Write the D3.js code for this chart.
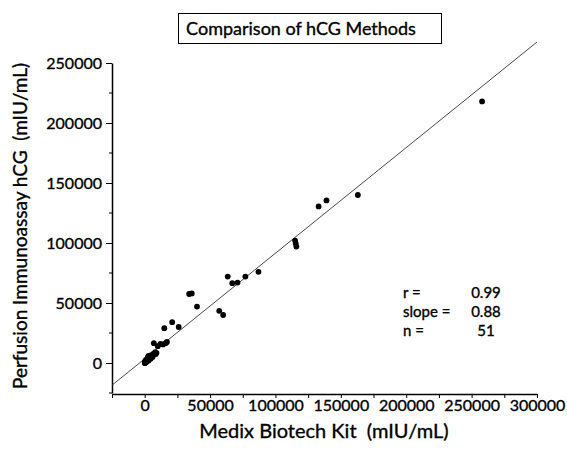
<!DOCTYPE html>
<html>
<head>
<meta charset="utf-8">
<script src="https://cdn.jsdelivr.net/npm/d3@7"></script>
<style>
  body { margin: 0; background: #fff; }
  svg { font-family: Lato, "Open Sans", sans-serif; }
  svg text { white-space: pre; stroke: #000; stroke-width: 0.35px; }
</style>
</head>
<body>
<div id="chart"></div>
<script>
// Medix Biotech Kit (x) vs Perfusion Immunoassay (y), mIU/mL
const medix = [0, 1000, 2500, 5000, 7500, 7000, 10000, 16000, 15000, 21000,
  26000, 34000, 36000, 40000, 57000, 60000, 63500, 67000, 71000, 77000,
  87000, 115000, 115500, 116000, 133000, 139000, 163000, 258000,
  200, 500, 800, 1500, 2000, 3000, 3500, 4000, 4500, 6000, 6500, 8000,
  8500, 9000, 12000, 14000, 17000, 500, 1200, 2200, 5500, 3000, 300];
const perfusion = [0, 2500, 5000, 6500, 8000, 16500, 14000, 16500, 29000, 34000,
  30000, 57500, 58000, 47000, 43500, 40000, 72000, 66500, 67000, 72000,
  76000, 102000, 99500, 97000, 130500, 135500, 140000, 218000,
  300, 1000, 600, 1500, 3500, 2000, 4000, 5500, 3500, 5000, 7500, 9000,
  7500, 8500, 16000, 15500, 17500, 200, 800, 1800, 6000, 6000, 1500];

const xTicks = [0, 50000, 100000, 150000, 200000, 250000, 300000];
const yTicks = [0, 50000, 100000, 150000, 200000, 250000];
const fit = { slope: 0.88, intercept: 3500 };
const stats = [['r =', '0.99'], ['slope =', '0.88'], ['n =', '51']];

const width = 567, height = 449;
const svg = d3.select('#chart').append('svg')
    .attr('width', width)
    .attr('height', height);

const x = d3.scaleLinear().domain([-25000, 300000]).range([112, 537]);
const y = d3.scaleLinear().domain([-25000, 250000]).range([393, 63]);

// x axis: ticks every 25000, labels on the 50000s
const xAxis = svg.append('g')
    .attr('transform', `translate(0,${y(-25000) + 1})`)
    .call(d3.axisBottom(x)
      .tickValues(d3.range(-25000, 300001, 25000))
      .tickSize(4)
      .tickSizeOuter(0)
      .tickFormat(d => xTicks.includes(d) ? d : ''));

// y axis: major ticks with labels, minor ticks between
const yAxis = svg.append('g')
    .attr('transform', `translate(${x(-25000)},0)`)
    .call(d3.axisLeft(y)
      .tickValues(yTicks)
      .tickSize(6)
      .tickSizeOuter(0)
      .tickFormat(d => d));

svg.append('g')
    .attr('transform', `translate(${x(-25000)},0)`)
    .selectAll('line')
    .data(yTicks.map(d => d - 25000))
    .join('line')
      .attr('x1', -3)
      .attr('x2', 0)
      .attr('y1', d => y(d))
      .attr('y2', d => y(d))
      .attr('stroke', '#000');

[xAxis, yAxis].forEach(g => {
  g.select('.domain').attr('stroke-width', 1.5);
  g.selectAll('text')
      .attr('font-size', '16px')
      .attr('font-family', 'Lato, sans-serif')
      .attr('fill', '#000');
});
xAxis.selectAll('text').attr('dy', '0.75em').attr('y', 5);
yAxis.selectAll('text').attr('x', -10);

// regression line
svg.append('line')
    .attr('x1', x(-25000))
    .attr('y1', y(fit.slope * -25000 + fit.intercept))
    .attr('x2', x(300000))
    .attr('y2', y(fit.slope * 300000 + fit.intercept))
    .attr('stroke', '#333')
    .attr('stroke-width', 0.9);

// points
svg.append('g')
    .selectAll('circle')
    .data(medix.map((d, i) => [d, perfusion[i]]))
    .join('circle')
      .attr('cx', d => x(d[0]))
      .attr('cy', d => y(d[1]))
      .attr('r', 2.9)
      .attr('fill', '#000');

// title box
svg.append('rect')
    .attr('x', 178.5)
    .attr('y', 13.5)
    .attr('width', 263)
    .attr('height', 30)
    .attr('fill', 'none')
    .attr('stroke', '#000');

svg.append('text')
    .attr('x', 301)
    .attr('y', 35)
    .attr('text-anchor', 'middle')
    .attr('font-size', '18px')
    .text('Comparison of hCG Methods');

// axis titles
svg.append('text')
    .attr('x', 324)
    .attr('y', 438)
    .attr('text-anchor', 'middle')
    .attr('font-size', '20px')
    .text('Medix Biotech Kit  (mIU/mL)');

svg.append('text')
    .attr('transform', 'translate(27,226) rotate(-90)')
    .attr('text-anchor', 'middle')
    .attr('font-size', '19px')
    .text('Perfusion Immunoassay hCG  (mIU/mL)');

// stats
const st = svg.append('g')
    .selectAll('g')
    .data(stats)
    .join('g')
      .attr('transform', (d, i) => `translate(0,${298 + i * 19})`)
      .attr('font-size', '15px');

st.append('text')
    .attr('x', 403)
    .text(d => d[0]);

st.append('text')
    .attr('x', 486)
    .attr('text-anchor', 'middle')
    .text(d => d[1]);
</script>
</body>
</html>
